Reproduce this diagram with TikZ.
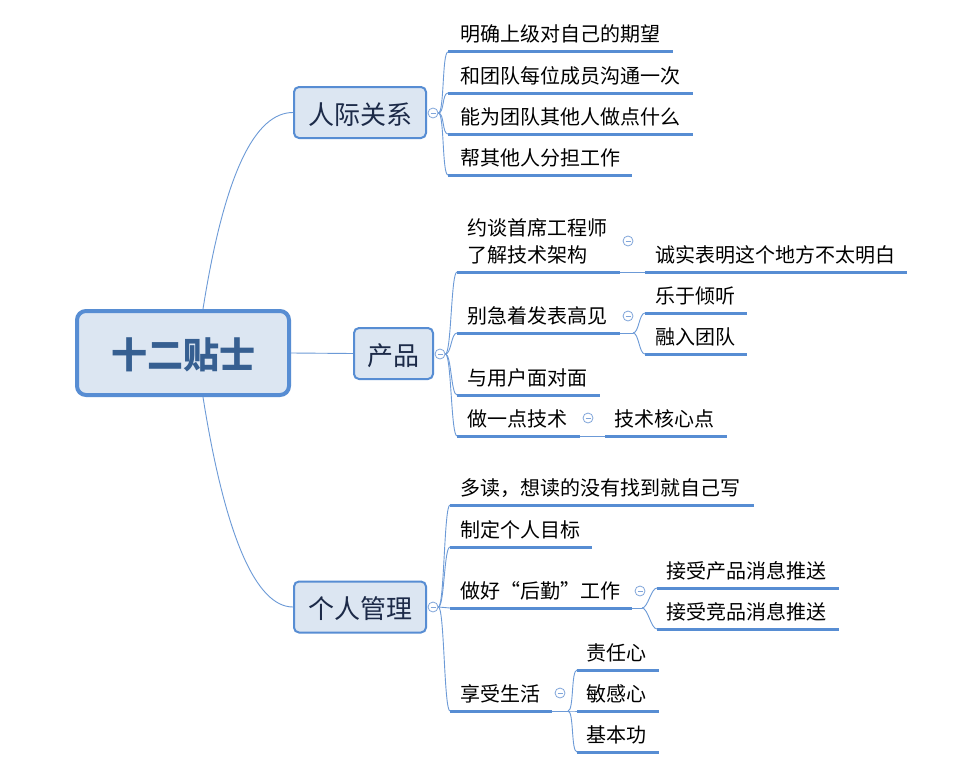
\documentclass[tikz,border=0pt]{standalone}
\usepackage{fontspec}
\setmainfont{Noto Sans CJK SC}
\definecolor{bordc}{RGB}{87,141,211}
\definecolor{boxfill}{RGB}{220,230,242}
\definecolor{connc}{RGB}{108,154,215}
\definecolor{collc}{RGB}{128,165,218}
\definecolor{roottext}{RGB}{54,95,145}
\definecolor{subtext}{RGB}{28,42,72}
\tikzset{
 subbox/.style={draw=bordc, line width=2pt, fill=boxfill, rounded corners=5pt, inner sep=0pt,
   minimum height=51pt, font=\fontsize{26}{30}\selectfont, text=subtext, text height=23.8pt, text depth=0pt},
 rootbox/.style={draw=bordc, line width=4pt, fill=boxfill, rounded corners=9pt, inner sep=0pt,
   minimum width=212pt, minimum height=84pt, font=\fontsize{36}{40}\selectfont\bfseries, text=roottext,
   text height=31.4pt, text depth=0pt},
 leaftext/.style={anchor=base west, inner sep=0pt, font=\fontsize{20}{27}\selectfont, text=black},
 uline/.style={draw=bordc, line width=3pt},
 conn/.style={draw=connc, line width=0.9pt},
 collapse/.style={circle, draw=collc, line width=0.8pt, fill=white, minimum size=10pt, inner sep=0pt,
   path picture={\draw[collc, line width=0.8pt] ([xshift=-2.5pt]path picture bounding box.center) -- ([xshift=2.5pt]path picture bounding box.center);}}
}
% #1 name, #2 x start, #3 x end, #4 underline y, #5 text x, #6 text
\newcommand\leafitem[6]{%
  \coordinate (#1s) at (#2,#4);
  \coordinate (#1e) at (#3,#4);
  \draw[uline] (#1s) -- (#1e);
  \node[leaftext] (#1) at (#5,#4-10) {#6};
}
\newcommand\spine[2]{\draw[conn] (#1) .. controls +(6,0) and +(-6,0) .. (#2);}
\begin{document}
\begin{tikzpicture}[x=1pt,y=-1pt]
\useasboundingbox (0,0) rectangle (958,784);
\fill[white] (0,0) rectangle (958,784);

% main nodes
\node[rootbox] (root) at (183,353) {十二贴士};
\node[subbox, minimum width=132pt] (r1) at (360,112.5) {人际关系};
\node[subbox, minimum width=79pt] (r2) at (393.5,353.5) {产品};
\node[subbox, minimum width=132pt] (r3) at (360,607) {个人管理};

% root connectors
\draw[conn] ([xshift=20pt]root.north) .. controls +(22,-139) and +(-37,0) .. (r1.west);
\draw[conn] ([xshift=20pt]root.south) .. controls +(22,139) and +(-37,0) .. (r3.west);
\draw[conn] (root.east) -- (r2.west);

% collapse circles of main topics
\node[collapse] (c1) at (433,113) {};
\node[collapse] (c2) at (440,354) {};
\node[collapse] (c3) at (433,607) {};

% ---- 人际关系
\leafitem{r1a}{448}{673}{52}{460}{明确上级对自己的期望}
\leafitem{r1b}{448}{693}{93}{460}{和团队每位成员沟通一次}
\leafitem{r1c}{448}{693}{134}{460}{能为团队其他人做点什么}
\leafitem{r1d}{448}{632}{175}{460}{帮其他人分担工作}
\spine{c1.east}{r1as}
\spine{c1.east}{r1bs}
\spine{c1.east}{r1cs}
\spine{c1.east}{r1ds}

% ---- 产品
\coordinate (r2as) at (457,272);
\coordinate (r2ae) at (620,272);
\draw[uline] (r2as) -- (r2ae);
\node[leaftext, align=left] (r2a) at (467,262) {约谈首席工程师\\了解技术架构};
\leafitem{r2b}{457}{620}{333}{467}{别急着发表高见}
\leafitem{r2c}{457}{600}{395}{467}{与用户面对面}
\leafitem{r2d}{457}{580}{436}{467}{做一点技术}
\spine{c2.east}{r2as}
\spine{c2.east}{r2bs}
\spine{c2.east}{r2cs}
\spine{c2.east}{r2ds}

\node[collapse] (c2a) at (628,241) {};
\leafitem{r2aa}{645}{907}{272}{655}{诚实表明这个地方不太明白}
\draw[conn] (r2ae) -- (r2aas);

\node[collapse] (c2b) at (628,316) {};
\leafitem{r2ba}{645}{747}{313}{655}{乐于倾听}
\leafitem{r2bb}{645}{747}{354}{655}{融入团队}
\coordinate (j2) at (633,333);
\draw[conn] (r2be) -- (j2);
\spine{j2}{r2bas}
\spine{j2}{r2bbs}

\node[collapse] (c2d) at (588,418) {};
\leafitem{r2da}{605}{727}{436}{614}{技术核心点}
\draw[conn] (r2de) -- (r2das);

% ---- 个人管理
\leafitem{r3a}{450}{754}{505}{460}{多读，想读的没有找到就自己写}
\leafitem{r3b}{450}{592}{547}{460}{制定个人目标}
\leafitem{r3c}{450}{632}{608}{460}{做好\makebox[1em][r]{“}后勤\makebox[1em][l]{”}工作}
\leafitem{r3d}{450}{552}{711}{460}{享受生活}
\spine{c3.east}{r3as}
\spine{c3.east}{r3bs}
\spine{c3.east}{r3cs}
\spine{c3.east}{r3ds}

\node[collapse] (c3c) at (640,591) {};
\leafitem{r3ca}{657}{839}{588}{666}{接受产品消息推送}
\leafitem{r3cb}{657}{839}{629}{666}{接受竞品消息推送}
\coordinate (j3) at (642,608);
\draw[conn] (r3ce) -- (j3);
\spine{j3}{r3cas}
\spine{j3}{r3cbs}

\node[collapse] (c3d) at (560,693) {};
\leafitem{r3da}{577}{659}{670}{586}{责任心}
\leafitem{r3db}{577}{659}{711}{586}{敏感心}
\leafitem{r3dc}{577}{659}{752}{586}{基本功}
\coordinate (j4) at (568,711);
\draw[conn] (r3de) -- (j4);
\spine{j4}{r3das}
\spine{j4}{r3dbs}
\spine{j4}{r3dcs}
\end{tikzpicture}
\end{document}
